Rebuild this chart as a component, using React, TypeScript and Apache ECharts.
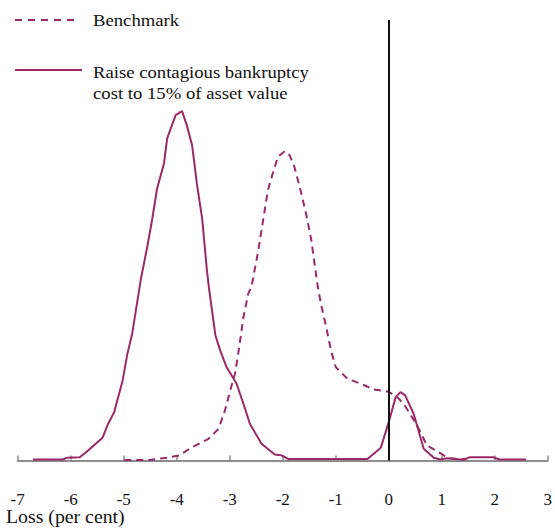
import React, { useEffect, useRef } from "react";
import * as echarts from "echarts";

const xTicks = [-7, -6, -5, -4, -3, -2, -1, 0, 1, 2, 3];

const solidX = [-6.71, -6.15, -6.08, -5.83, -5.71, -5.4, -5.3, -5.18, -5.02, -4.93, -4.84, -4.74, -4.68, -4.55, -4.46, -4.37, -4.24, -4.18, -4.02, -3.9, -3.81, -3.71, -3.62, -3.52, -3.43, -3.39, -3.27, -3.18, -3.06, -2.87, -2.71, -2.62, -2.4, -2.15, -2.03, -1.9, -0.4, -0.15, 0.0, 0.13, 0.22, 0.31, 0.47, 0.66, 0.85, 0.97, 1.1, 1.41, 1.53, 1.97, 2.09, 2.59];
const solidY = [0.1, 0.1, 0.27, 0.33, 0.83, 2.27, 3.6, 4.83, 8.0, 10.67, 12.67, 16.0, 18.0, 21.5, 24.17, 27.17, 29.67, 32.17, 34.5, 34.9, 33.5, 31.5, 27.67, 24.17, 19.0, 17.17, 12.5, 11.0, 9.33, 7.67, 5.17, 3.67, 1.67, 0.6, 0.53, 0.15, 0.15, 1.27, 3.83, 6.33, 6.83, 6.5, 4.67, 1.17, 0.27, 0.1, 0.23, 0.07, 0.33, 0.33, 0.1, 0.1];

const dashX = [-4.99, -4.52, -4.15, -3.96, -3.71, -3.4, -3.21, -3.09, -2.99, -2.9, -2.84, -2.74, -2.65, -2.59, -2.46, -2.37, -2.28, -2.18, -2.09, -1.96, -1.87, -1.78, -1.68, -1.56, -1.46, -1.4, -1.34, -1.28, -1.18, -1.09, -1.0, -0.78, -0.53, -0.28, -0.03, 0.13, 0.28, 0.34, 0.5, 0.6, 0.72, 0.94, 1.13, 1.47];
const dashY = [0.05, 0.05, 0.3, 0.5, 1.33, 2.17, 3.17, 5.0, 7.0, 8.67, 10.67, 14.33, 16.67, 17.33, 21.0, 24.0, 27.0, 28.83, 30.33, 30.9, 30.5, 29.33, 27.33, 24.67, 22.0, 19.67, 17.4, 15.67, 13.33, 11.0, 9.33, 8.17, 7.67, 7.1, 6.9, 6.5, 5.67, 5.17, 3.83, 2.83, 1.5, 0.83, 0.23, 0.1];

const seriesNames = ["Benchmark", "Raise contagious bankruptcy\ncost to 15% of asset value"];
const axisTitle = "Loss (per cent)";

const COLOR = "#9a2a66";
const FONT = "'Liberation Serif', 'Times New Roman', serif";

export default function App() {
  const ref = useRef<HTMLDivElement>(null);
  useEffect(() => {
    if (!ref.current) return;
    const chart = echarts.init(ref.current, null, { renderer: "svg" });
    const solid = solidX.map((x, i) => [x, solidY[i]]);
    const dash = dashX.map((x, i) => [x, dashY[i]]);
    chart.setOption({
      animation: false,
      backgroundColor: "#ffffff",
      grid: { left: 17.7, right: 3, top: 20, bottom: 67.5 },
      xAxis: {
        type: "value",
        min: xTicks[0],
        max: xTicks[xTicks.length - 1],
        interval: 1,
        splitLine: { show: false },
        axisLine: { show: true, onZero: false, lineStyle: { color: "#8c8c8c", width: 2 } },
        axisTick: { show: true, inside: true, length: 5, lineStyle: { color: "#8c8c8c", width: 1.5 } },
        axisLabel: { margin: 30, fontFamily: FONT, fontSize: 17, color: "#111" },
      },
      yAxis: {
        type: "value",
        min: 0,
        max: 44,
        show: false,
        splitLine: { show: false },
      },
      series: [
        {
          name: seriesNames[0],
          type: "line",
          data: dash,
          showSymbol: false,
          lineStyle: { color: COLOR, width: 2, type: [7, 5] },
          z: 3,
          markLine: {
            silent: true,
            symbol: "none",
            label: { show: false },
            lineStyle: { color: "#111", width: 2, type: "solid" },
            data: [{ xAxis: 0 }],
          },
        },
        {
          name: seriesNames[1],
          type: "line",
          data: solid,
          showSymbol: false,
          lineStyle: { color: COLOR, width: 2, type: "solid" },
          z: 4,
        },
      ],
      graphic: [
        { type: "line", shape: { x1: 15, y1: 20, x2: 78, y2: 20 }, style: { stroke: COLOR, lineWidth: 2, lineDash: [7, 6] } },
        { type: "text", x: 93, y: 20, scaleX: 1.1, style: { text: seriesNames[0], fontFamily: FONT, fontSize: 17, fill: "#111", verticalAlign: "middle" } },
        { type: "line", shape: { x1: 15, y1: 70, x2: 82, y2: 70 }, style: { stroke: COLOR, lineWidth: 2 } },
        { type: "text", x: 93, y: 62, scaleX: 1.1, style: { text: seriesNames[1], fontFamily: FONT, fontSize: 17, lineHeight: 21, fill: "#111", verticalAlign: "top" } },
        { type: "text", x: 6, y: 517, scaleX: 1.1, style: { text: axisTitle, fontFamily: FONT, fontSize: 18, fill: "#111", verticalAlign: "middle" } },
      ],
    });
    return () => chart.dispose();
  }, []);
  return <div ref={ref} style={{ position: "fixed", left: 0, top: 0, width: 555, height: 528 }} />;
}
